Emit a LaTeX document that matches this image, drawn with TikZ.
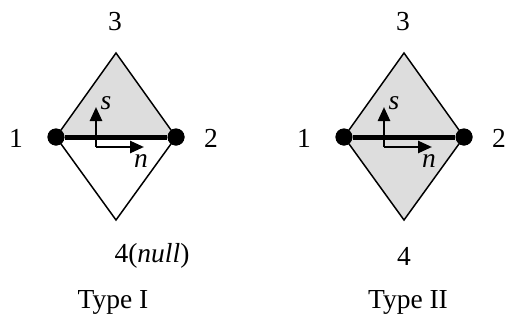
\documentclass[tikz,border=0pt]{standalone}
\usepackage{fontspec}
\setmainfont{Liberation Serif}
\usetikzlibrary{arrows.meta}
\begin{document}
\begin{tikzpicture}[x=1pt,y=-1pt,
  lbl/.style={inner sep=0pt,font=\fontsize{27.5}{32}\selectfont},
  edge/.style={line width=1.5pt,line join=miter},
  bar/.style={line width=5pt},
  dot/.style={circle,fill=black,minimum size=17pt,inner sep=0pt},
  axis/.style={line width=2.5pt,-{Triangle[length=14pt,width=12pt]}},
  axlbl/.style={inner sep=0pt,font=\fontsize{27.5}{32}\selectfont\itshape}]
\useasboundingbox (0,0) rectangle (509,327);
\definecolor{greyfill}{HTML}{DDDDDD}
% Type I
\coordinate (aT) at (116,53);
\coordinate (aB) at (116,220);
\coordinate (aO) at (96,147);
\node[dot] (a1) at (56,137) {};
\node[dot] (a2) at (176,137) {};
\fill[greyfill] (a1.center) -- (aT) -- (a2.center) -- cycle;
\draw[edge] (a1.center) -- (aT) -- (a2.center) -- (aB) -- cycle;
\draw[bar] (a1) -- (a2);
\node[dot] at (a1) {};
\node[dot] at (a2) {};
\coordinate (as) at (96,107);
\coordinate (an) at (144,147);
\draw[axis] (aO) -- (as);
\draw[axis] (aO) -- (an);
\node[axlbl] (asl) at (106,103) {s};
\node[axlbl] (anl) at (141,161) {n};
\node[lbl] (a3) at (115,22) {3};
\node[lbl] (al1) at (16,138) {1};
\node[lbl] (al2) at (211,138) {2};
\node[lbl] (a4) at (152,256) {4(\textit{null})};
\node[lbl] (at) at (113,302) {Type I};
% Type II
\coordinate (bT) at (404,53);
\coordinate (bB) at (404,220);
\coordinate (bO) at (384,147);
\node[dot] (b1) at (344,137) {};
\node[dot] (b2) at (464,137) {};
\fill[greyfill] (b1.center) -- (bT) -- (b2.center) -- (bB) -- cycle;
\draw[edge] (b1.center) -- (bT) -- (b2.center) -- (bB) -- cycle;
\draw[bar] (b1) -- (b2);
\node[dot] at (b1) {};
\node[dot] at (b2) {};
\coordinate (bs) at (384,107);
\coordinate (bn) at (432,147);
\draw[axis] (bO) -- (bs);
\draw[axis] (bO) -- (bn);
\node[axlbl] (bsl) at (394,103) {s};
\node[axlbl] (bnl) at (429,161) {n};
\node[lbl] (b3) at (403,22) {3};
\node[lbl] (bl1) at (304,138) {1};
\node[lbl] (bl2) at (499,138) {2};
\node[lbl] (b4) at (404,256) {4};
\node[lbl] (bt) at (408,302) {Type II};
\end{tikzpicture}
\end{document}
